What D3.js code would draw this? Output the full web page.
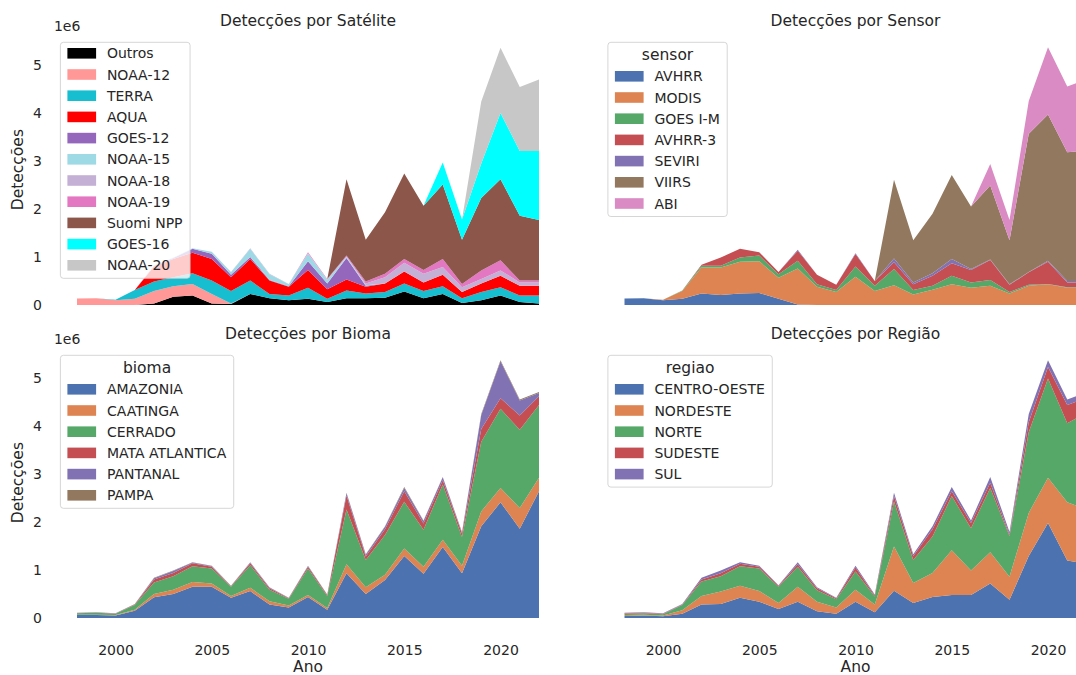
<!DOCTYPE html>
<html>
<head>
<meta charset="utf-8">
<script src="https://cdn.jsdelivr.net/npm/d3@7"></script>
<style>
  body { margin: 0; background: #fff; }
  svg text { font-family: "DejaVu Sans", sans-serif; fill: #262626; }
</style>
</head>
<body>
<div class="container"></div>
<script>
const width = 1076,
    height = 675,
    axW = 508.2,
    axH = 270.7;

const years = [1998, 1999, 2000, 2001, 2002, 2003, 2004, 2005, 2006, 2007, 2008, 2009,
               2010, 2011, 2012, 2013, 2014, 2015, 2016, 2017, 2018, 2019, 2020, 2021, 2022];
const xTicks = [2000, 2005, 2010, 2015, 2020];
const yTicks = [0, 1e6, 2e6, 3e6, 4e6, 5e6];

// detections per year, in thousands

// satellite
const satKeys = ['Outros', 'NOAA-12', 'TERRA', 'AQUA', 'GOES-12', 'NOAA-15', 'NOAA-18', 'NOAA-19', 'Suomi NPP', 'GOES-16', 'NOAA-20'];
const satColors = ['#000000', '#ff9896', '#17becf', '#ff0000', '#9467bd', '#9edae5', '#c5b0d5', '#e377c2', '#8c564b', '#00ffff', '#c7c7c7'];
const outros   = [0, 0, 0, 0, 30, 170, 200, 30, 20, 230, 140, 100, 130, 60, 140, 140, 150, 280, 140, 230, 40, 100, 200, 60, 30];
const noaa12   = [135, 140, 100, 130, 260, 220, 240, 200, 10, 0, 0, 0, 0, 0, 0, 0, 0, 0, 0, 0, 0, 0, 0, 0, 0];
const terra    = [0, 0, 10, 180, 200, 190, 220, 280, 260, 280, 90, 100, 230, 70, 160, 100, 120, 170, 150, 160, 100, 170, 170, 140, 170];
const aqua     = [0, 0, 0, 0, 310, 380, 430, 450, 290, 450, 280, 180, 370, 200, 230, 140, 180, 250, 180, 240, 130, 180, 240, 200, 200];
const goes12   = [0, 0, 0, 0, 20, 20, 80, 110, 50, 40, 10, 10, 180, 120, 450, 20, 0, 0, 0, 0, 0, 0, 0, 0, 0];
const noaa15   = [0, 0, 0, 0, 10, 10, 10, 40, 50, 170, 120, 40, 160, 70, 20, 10, 0, 0, 0, 0, 0, 0, 0, 0, 0];
const noaa18   = [0, 0, 0, 0, 0, 0, 0, 0, 10, 10, 10, 10, 10, 10, 10, 40, 130, 180, 180, 160, 100, 90, 110, 70, 70];
const noaa19   = [0, 0, 0, 0, 0, 0, 0, 0, 0, 0, 0, 0, 20, 10, 20, 40, 70, 80, 80, 170, 70, 180, 210, 40, 40];
const suomiNpp = [0, 0, 0, 0, 0, 0, 0, 0, 0, 0, 0, 0, 0, 0, 1590, 870, 1280, 1780, 1340, 1550, 920, 1510, 1690, 1350, 1260];
const goes16   = [0, 0, 0, 0, 0, 0, 0, 0, 0, 0, 0, 0, 0, 0, 0, 0, 0, 0, 0, 460, 420, 720, 1380, 1350, 1440];
const noaa20   = [0, 0, 0, 0, 0, 0, 0, 0, 0, 0, 0, 0, 0, 0, 0, 0, 0, 0, 0, 0, 0, 1290, 1360, 1330, 1490];

// sensor
const sensorKeys = ['AVHRR', 'MODIS', 'GOES I-M', 'AVHRR-3', 'SEVIRI', 'VIIRS', 'ABI'];
const deep = ['#4c72b0', '#dd8452', '#55a868', '#c44e52', '#8172b3', '#937860', '#da8bc3'];
const avhrr  = [135, 140, 100, 130, 240, 210, 240, 250, 130, 10, 0, 0, 0, 0, 0, 0, 0, 0, 0, 0, 0, 0, 0, 0, 0];
const modis  = [0, 0, 10, 160, 540, 570, 660, 660, 440, 750, 380, 270, 590, 290, 410, 220, 320, 430, 360, 400, 240, 400, 430, 360, 360];
const goesIM = [0, 0, 0, 10, 40, 40, 90, 120, 70, 160, 50, 40, 210, 110, 340, 90, 80, 180, 110, 120, 30, 20, 10, 10, 10];
const avhrr3 = [0, 0, 0, 0, 20, 170, 180, 70, 50, 210, 200, 110, 260, 100, 140, 120, 210, 260, 260, 420, 150, 260, 460, 100, 100];
const seviri = [0, 0, 0, 0, 0, 0, 0, 0, 0, 20, 0, 0, 20, 0, 80, 40, 50, 90, 20, 10, 10, 10, 20, 30, 30];
const viirs  = [0, 0, 0, 0, 0, 0, 0, 0, 0, 0, 0, 0, 0, 0, 1640, 880, 1240, 1750, 1300, 1540, 920, 2880, 3050, 2680, 2720];
const abi    = [0, 0, 0, 0, 0, 0, 0, 0, 0, 0, 0, 0, 0, 0, 0, 0, 0, 0, 0, 450, 420, 680, 1400, 1370, 1490];

// bioma
const biomaKeys = ['AMAZONIA', 'CAATINGA', 'CERRADO', 'MATA ATLANTICA', 'PANTANAL', 'PAMPA'];
const amazonia = [60, 60, 50, 150, 430, 500, 650, 650, 420, 560, 280, 220, 440, 170, 930, 500, 790, 1290, 920, 1480, 930, 1910, 2410, 1860, 2640];
const caatinga = [10, 10, 10, 20, 70, 90, 100, 70, 40, 70, 70, 40, 40, 40, 190, 140, 110, 160, 150, 150, 160, 310, 300, 430, 280];
const cerrado  = [30, 40, 30, 100, 240, 280, 330, 310, 190, 470, 240, 140, 550, 250, 1140, 570, 830, 970, 770, 1150, 600, 1450, 1650, 1630, 1520];
const mata     = [5, 5, 5, 10, 60, 70, 60, 40, 10, 40, 30, 10, 40, 20, 290, 70, 120, 220, 130, 90, 70, 270, 220, 300, 180];
const pantanal = [4, 4, 4, 8, 30, 40, 15, 15, 7, 15, 15, 7, 15, 7, 50, 40, 50, 70, 50, 60, 20, 290, 770, 310, 70];
const pampa    = [1, 1, 1, 2, 10, 10, 5, 5, 3, 5, 5, 3, 5, 3, 10, 10, 10, 20, 10, 10, 10, 20, 20, 20, 20];

// regiao
const regiaoKeys = ['CENTRO-OESTE', 'NORDESTE', 'NORTE', 'SUDESTE', 'SUL'];
const centroOeste = [40, 50, 35, 90, 280, 290, 420, 340, 190, 340, 140, 90, 340, 120, 570, 310, 440, 480, 480, 720, 380, 1290, 1980, 1200, 1130];
const nordeste    = [20, 20, 15, 70, 180, 260, 250, 220, 120, 310, 200, 130, 250, 160, 920, 420, 500, 930, 510, 650, 480, 900, 940, 1210, 1140];
const norte       = [30, 30, 30, 110, 300, 320, 410, 470, 340, 420, 240, 170, 380, 170, 940, 480, 760, 1130, 880, 1340, 850, 1680, 2070, 1650, 2000];
const sudeste     = [10, 10, 10, 10, 40, 60, 50, 40, 20, 50, 40, 20, 80, 20, 110, 80, 150, 100, 110, 110, 30, 210, 240, 380, 310];
const sul         = [10, 10, 10, 10, 40, 60, 30, 20, 10, 40, 20, 10, 40, 20, 70, 40, 60, 90, 50, 120, 50, 170, 140, 110, 130];

const panels = [
  { title: 'Detecções por Satélite', keys: satKeys, colors: satColors, legendTitle: null,
    values: [outros, noaa12, terra, aqua, goes12, noaa15, noaa18, noaa19, suomiNpp, goes16, noaa20],
    left: 53.9, bottom: 305, yAxis: true, xAxis: false },
  { title: 'Detecções por Sensor', keys: sensorKeys, colors: deep, legendTitle: 'sensor',
    values: [avhrr, modis, goesIM, avhrr3, seviri, viirs, abi],
    left: 601.4, bottom: 305, yAxis: false, xAxis: false },
  { title: 'Detecções por Bioma', keys: biomaKeys, colors: deep, legendTitle: 'bioma',
    values: [amazonia, caatinga, cerrado, mata, pantanal, pampa],
    left: 53.9, bottom: 618, yAxis: true, xAxis: true },
  { title: 'Detecções por Região', keys: regiaoKeys, colors: deep, legendTitle: 'regiao',
    values: [centroOeste, nordeste, norte, sudeste, sul],
    left: 601.4, bottom: 618, yAxis: false, xAxis: true }
];

const svg = d3.select('.container')
              .append('svg')
              .attr('width', width)
              .attr('height', height);

svg.append('rect')
   .attr('width', width)
   .attr('height', height)
   .attr('fill', '#fff');

const drawPanel = (p) => {
  const x = d3.scaleLinear()
              .domain([1996.8, 2023.2])
              .range([p.left, p.left + axW]);
  const y = d3.scaleLinear()
              .domain([0, 5.64e6])
              .range([p.bottom, p.bottom - axH]);

  const rows = years.map((yr, i) => {
    const r = { year: yr };
    p.keys.forEach((k, j) => r[k] = p.values[j][i] * 1000);
    return r;
  });
  const layers = d3.stack().keys(p.keys)(rows);
  const area = d3.area()
                 .x(d => x(d.data.year))
                 .y0(d => y(d[0]))
                 .y1(d => y(d[1]));

  const g = svg.append('g');
  g.selectAll('path.layer')
   .data(layers)
   .enter()
   .append('path')
   .attr('class', 'layer')
   .attr('d', area)
   .attr('fill', (d, i) => p.colors[i]);

  const top = p.bottom - axH;

  if (p.yAxis) {
    const ya = g.append('g')
                .attr('transform', `translate(${p.left},0)`)
                .call(d3.axisLeft(y).tickValues(yTicks).tickSize(0).tickPadding(12).tickFormat(d => d / 1e6));
    ya.select('.domain').remove();
    ya.selectAll('text').style('font-size', '14px').style('font-family', 'DejaVu Sans');

    g.append('text')
     .attr('x', p.left)
     .attr('y', top - 3)
     .style('font-size', '14px')
     .text('1e6');

    g.append('text')
     .attr('transform', `translate(23,${top + axH / 2}) rotate(-90)`)
     .attr('text-anchor', 'middle')
     .style('font-size', '15.5px')
     .text('Detecções');
  }

  if (p.xAxis) {
    const xa = g.append('g')
                .attr('transform', `translate(0,${p.bottom})`)
                .call(d3.axisBottom(x).tickValues(xTicks).tickSize(0).tickPadding(27).tickFormat(d3.format('d')));
    xa.select('.domain').remove();
    xa.selectAll('text').style('font-size', '14px').style('font-family', 'DejaVu Sans');

    g.append('text')
     .attr('x', p.left + axW / 2)
     .attr('y', 672)
     .attr('text-anchor', 'middle')
     .style('font-size', '15.5px')
     .text('Ano');
  }

  g.append('text')
   .attr('x', p.left + axW / 2)
   .attr('y', top - 8)
   .attr('text-anchor', 'middle')
   .style('font-size', '15.5px')
   .text(p.title);

  drawLegend(p, top);
};

const drawLegend = (p, top) => {
  const step = 21.2;
  const first = p.legendTitle ? 34 : 11;
  const boxH = first + (p.keys.length - 1) * step + 13;
  const lg = svg.append('g')
                .attr('transform', `translate(${p.left + 6.5},${top + 8})`);
  const box = lg.append('rect')
                .attr('height', boxH)
                .attr('rx', 3)
                .attr('fill', '#fff')
                .attr('fill-opacity', 0.8)
                .attr('stroke', '#cccccc')
                .attr('stroke-opacity', 0.8);

  const labels = lg.selectAll('text.entry')
                   .data(p.keys)
                   .enter()
                   .append('text')
                   .attr('class', 'entry')
                   .attr('x', 46.5)
                   .attr('y', (d, i) => first + i * step)
                   .attr('dy', '0.36em')
                   .style('font-size', '14px')
                   .text(d => d);

  lg.selectAll('rect.swatch')
    .data(p.keys)
    .enter()
    .append('rect')
    .attr('class', 'swatch')
    .attr('x', 7)
    .attr('y', (d, i) => first + i * step - 5.3)
    .attr('width', 28.7)
    .attr('height', 10.6)
    .attr('fill', (d, i) => p.colors[i]);

  let maxLen = 0;
  labels.each(function () { maxLen = Math.max(maxLen, this.getComputedTextLength()); });
  const boxW = 46.5 + maxLen + 7.5;
  box.attr('width', boxW);

  if (p.legendTitle) {
    lg.append('text')
      .attr('x', boxW / 2)
      .attr('y', 12)
      .attr('dy', '0.36em')
      .attr('text-anchor', 'middle')
      .style('font-size', '15.5px')
      .text(p.legendTitle);
  }
};

panels.forEach(drawPanel);
</script>
</body>
</html>
